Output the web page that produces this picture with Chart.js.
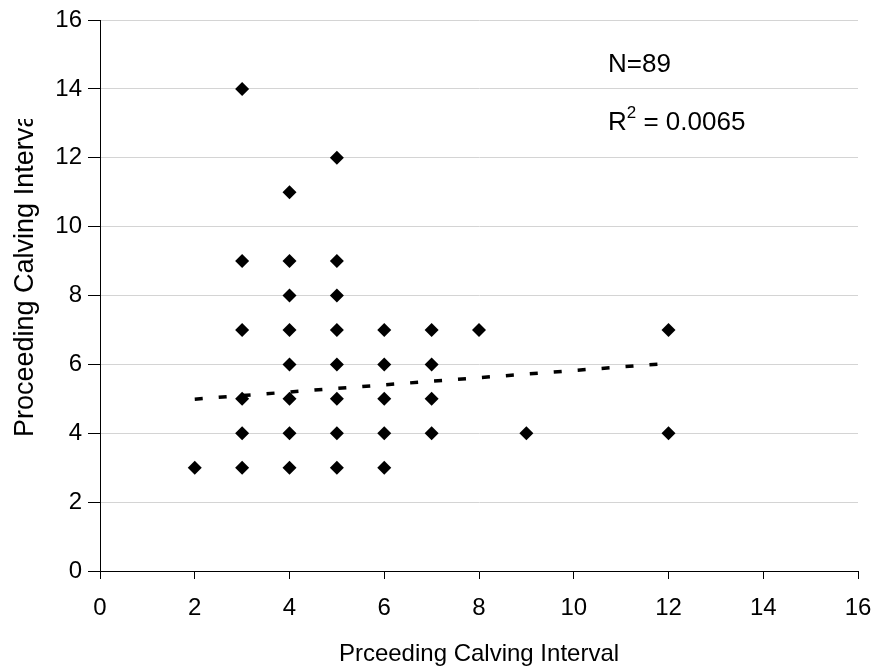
<!DOCTYPE html>
<html>
<head>
<meta charset="utf-8">
<script src="https://cdn.jsdelivr.net/npm/chart.js@4.4.1/dist/chart.umd.min.js"></script>
<style>
html,body{margin:0;padding:0;background:#fff;}
#wrap{width:877px;height:669px;}
</style>
</head>
<body>
<div id="wrap"><canvas id="c" width="877" height="669"></canvas></div>
<script>
// Data
const xValues = [2, 3,3,3,3,3,3, 4,4,4,4,4,4,4,4, 5,5,5,5,5,5,5,5, 6,6,6,6,6, 7,7,7,7, 8, 9, 12,12];
const yValues = [3, 3,4,5,7,9,14, 3,4,5,6,7,8,9,11, 3,4,5,6,7,8,9,12, 3,4,5,6,7, 4,5,6,7, 7, 4, 4,7];
const trendX = [2, 12];
const trendY = [4.99, 6.03];
const xTicks = [0, 2, 4, 6, 8, 10, 12, 14, 16];
const yTicks = [0, 2, 4, 6, 8, 10, 12, 14, 16];
const xTitle = "Prceeding Calving Interval";
const yTitle = "Proceeding Calving Interval";
const noteN = "N=89";
const noteR = "0.0065";

const FONT = "'Liberation Sans', Arial, sans-serif";

const points = xValues.map((x, i) => ({x: x, y: yValues[i]}));
const trend = trendX.map((x, i) => ({x: x, y: trendY[i]}));

const annot = {
  id: 'annot',
  afterDraw(chart) {
    const ctx = chart.ctx;
    ctx.save();
    ctx.fillStyle = '#000';
    ctx.font = '26px ' + FONT;
    ctx.textAlign = 'left';
    ctx.textBaseline = 'alphabetic';
    const lx = 608;
    ctx.fillText(noteN, lx, 72);
    ctx.fillText('R', lx, 130);
    const w = ctx.measureText('R').width;
    ctx.font = '17px ' + FONT;
    ctx.fillText('2', lx + w, 118);
    const w2 = ctx.measureText('2').width;
    ctx.font = '26px ' + FONT;
    ctx.fillText(' = ' + noteR, lx + w + w2, 130);
    // y axis title, clipped at the top as in the reference
    ctx.beginPath();
    ctx.rect(0, 119, 60, 600);
    ctx.clip();
    ctx.translate(33, 437);
    ctx.rotate(-Math.PI / 2);
    ctx.font = '27px ' + FONT;
    ctx.textAlign = 'left';
    ctx.textBaseline = 'alphabetic';
    ctx.fillText(yTitle, 0, 0);
    ctx.restore();
  }
};

new Chart(document.getElementById('c'), {
  type: 'scatter',
  data: {
    datasets: [
      {
        data: points,
        pointStyle: 'rectRot',
        pointRadius: 7,
        pointHoverRadius: 7,
        backgroundColor: '#000',
        borderColor: '#000',
        borderWidth: 0,
        order: 1
      },
      {
        type: 'line',
        data: trend,
        borderColor: '#000',
        borderWidth: 3.5,
        borderDash: [8, 16],
        pointRadius: 0,
        fill: false,
        order: 0
      }
    ]
  },
  plugins: [annot],
  options: {
    responsive: false,
    animation: false,
    events: [],
    layout: {padding: {top: 20, right: 19, left: 0, bottom: 0}},
    plugins: {legend: {display: false}, tooltip: {enabled: false}},
    scales: {
      x: {
        type: 'linear',
        min: 0, max: 16,
        afterBuildTicks(s) { s.ticks = xTicks.map(v => ({value: v})); },
        afterFit(s) { s.height = 98; s.paddingRight = 0; s.paddingLeft = 0; },
        grid: {drawOnChartArea: false, drawTicks: true, tickLength: 8, tickColor: '#000', tickWidth: 1},
        border: {color: '#000', width: 1},
        ticks: {color: '#000', font: {family: FONT, size: 24}, padding: 15, maxRotation: 0},
        title: {display: true, text: xTitle, color: '#000', font: {family: FONT, size: 24}, padding: {top: 10, bottom: 0}}
      },
      y: {
        type: 'linear',
        min: 0, max: 16,
        afterBuildTicks(s) { s.ticks = yTicks.map(v => ({value: v})); },
        afterFit(s) { s.width = 100; s.paddingTop = 0; s.paddingBottom = 0; },
        grid: {color: '#d4d4d4', lineWidth: 1, drawTicks: true, tickLength: 12, tickColor: '#000'},
        border: {color: '#000', width: 1},
        ticks: {color: '#000', font: {family: FONT, size: 24}, padding: 6},
        title: {display: false}
      }
    }
  }
});
</script>
</body>
</html>
